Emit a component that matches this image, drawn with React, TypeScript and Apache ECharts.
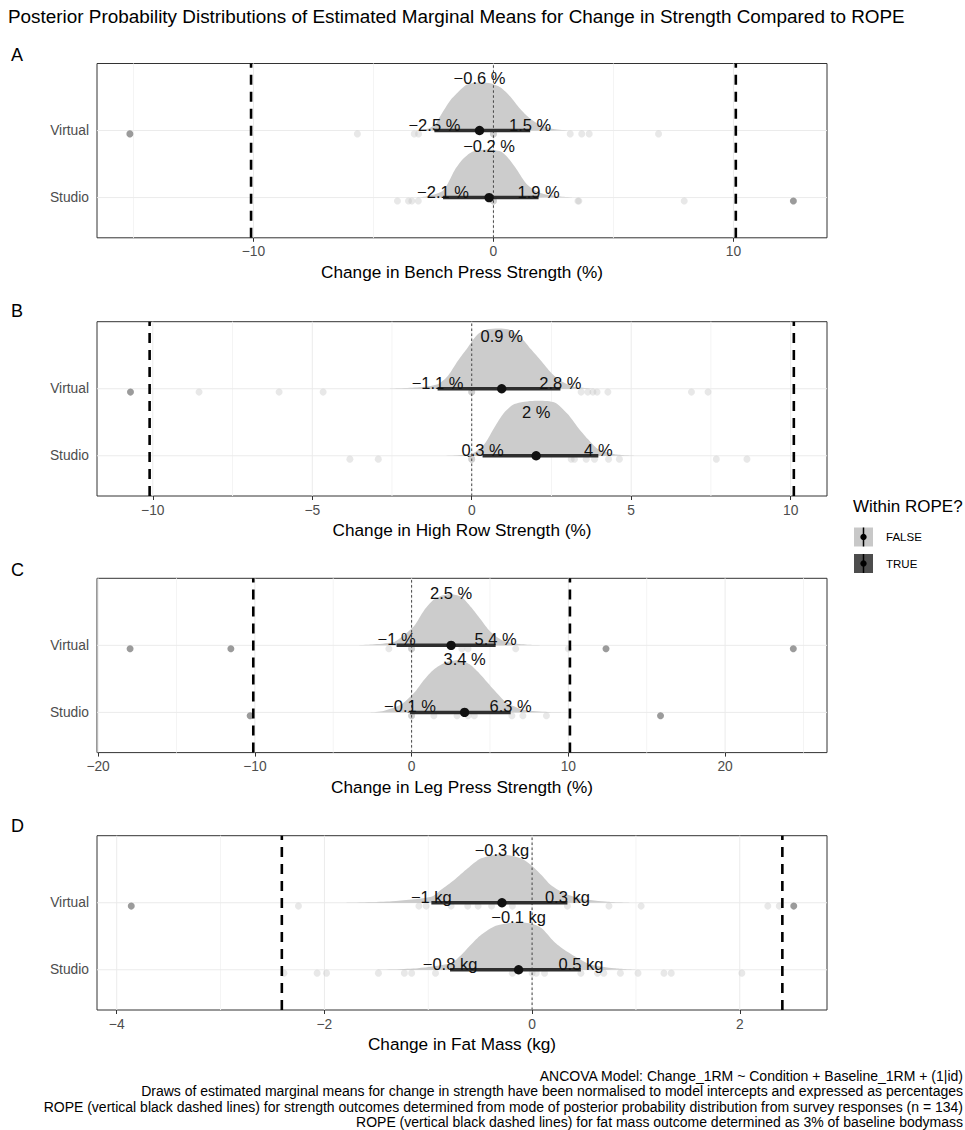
import React, { useEffect, useRef } from "react";
import * as echarts from "echarts";

const FONT = "'Liberation Sans', Arial, Helvetica, sans-serif";

// ---------- data ----------
const titleText =
  "Posterior Probability Distributions of Estimated Marginal Means for Change in Strength Compared to ROPE";
const panelLetters = ["A", "B", "C", "D"];
const axisTitles = [
  "Change in Bench Press Strength (%)",
  "Change in High Row Strength (%)",
  "Change in Leg Press Strength (%)",
  "Change in Fat Mass (kg)",
];
const units = ["%", "%", "%", "kg"];
const conditions = ["Virtual", "Studio"];
const ropeHalfWidth = [10.1, 10.1, 10.1, 2.41];
const xMin = [-16.52, -11.75, -20.07, -4.19];
const xMax = [13.9, 11.14, 26.5, 2.84];
const majorTicks = [
  [-10, 0, 10],
  [-10, -5, 0, 5, 10],
  [-20, -10, 0, 10, 20],
  [-4, -2, 0, 2],
];
const minorTicks = [
  [-15, -5, 5],
  [-7.5, -2.5, 2.5, 7.5],
  [-15, -5, 5, 15, 25],
  [-3, -1, 1],
];

// estimated marginal means and intervals, per panel
const meanVirtual = [-0.58, 0.94, 2.52, -0.29];
const lowerVirtual = [-2.46, -1.07, -0.96, -0.97];
const upperVirtual = [1.53, 2.78, 5.36, 0.34];
const meanStudio = [-0.18, 2.02, 3.38, -0.13];
const lowerStudio = [-2.1, 0.34, -0.1, -0.79];
const upperStudio = [1.88, 3.97, 6.32, 0.47];

// posterior densities [x, density height]
const slabBenchVirtual = [[-3.2, 0], [-2.7, 2], [-2.4, 7], [-2.2, 15], [-1.8, 30], [-1.45, 39], [-1.1, 46], [-0.6, 48], [-0.1, 47], [0.3, 43], [0.7, 34], [1.1, 22], [1.5, 12.5], [1.95, 5.5], [2.5, 1.5], [3.1, 0]];
const slabBenchStudio = [[-3.2, 0], [-2.8, 1], [-2.15, 6], [-1.9, 14], [-1.6, 28], [-1.25, 39], [-0.85, 46], [-0.2, 48], [0.3, 46], [0.56, 41], [0.97, 28], [1.4, 13], [1.95, 4.5], [2.8, 1], [3.3, 0]];
const slabRowVirtual = [[-2.6, 0], [-1.6, 1.5], [-1.07, 4.4], [-0.75, 12.7], [-0.44, 27.7], [-0.13, 41], [0.19, 54.4], [0.5, 59.4], [1.13, 59.4], [1.55, 51], [1.86, 39.4], [2.18, 27.7], [2.49, 16], [2.8, 7.7], [3.22, 2], [3.85, 0]];
const slabRowStudio = [[-0.9, 0], [0, 2], [0.4, 11.7], [0.71, 28.3], [1.02, 43.3], [1.34, 51.7], [1.97, 55], [2.6, 53.3], [3.01, 41.7], [3.33, 28.3], [3.64, 16.7], [3.96, 6.7], [4.48, 1.5], [5.1, 0]];
const slabLegVirtual = [[-3.5, 0], [-2.5, 0.8], [-1.2, 3], [-0.7, 7.7], [0.15, 19], [0.8, 35], [1.4, 45.5], [2.0, 50], [2.6, 51], [3.2, 48], [3.8, 38], [4.4, 26], [5.0, 14], [5.7, 5.7], [6.5, 2], [7.5, 0.5], [8.3, 0]];
const slabLegStudio = [[-2.6, 0], [-1.8, 1.5], [-0.7, 7.7], [0.15, 19.4], [0.8, 32.7], [1.4, 42.7], [2.2, 50], [3.0, 52], [3.7, 48], [4.4, 37.7], [5.25, 22.7], [6.1, 9.4], [7.2, 2.5], [8.7, 0.5], [9.5, 0]];
const slabFatVirtual = [[-1.8, 0], [-1.35, 1.5], [-0.97, 6], [-0.88, 12.7], [-0.75, 22.7], [-0.62, 34.4], [-0.49, 44.4], [-0.3, 48.5], [-0.11, 44.4], [-0.01, 37.7], [0.09, 27.7], [0.18, 17.7], [0.31, 9.4], [0.47, 4], [0.73, 1], [0.95, 0]];
const slabFatStudio = [[-1.5, 0], [-1.1, 1.5], [-0.78, 6.7], [-0.68, 15], [-0.59, 25], [-0.49, 35], [-0.35, 44], [-0.15, 47.5], [0.0, 46], [0.09, 41.7], [0.21, 28.3], [0.31, 20], [0.44, 11.7], [0.57, 5], [0.79, 1.5], [1.0, 0]];

// individual participant changes
const pointsBenchVirtual = [-15.15, -5.67, -3.3, -3.12, 0, 0, 0, 3.2, 3.68, 3.99, 6.88];
const pointsBenchStudio = [-4.0, -3.54, -3.4, -3.13, 0, 0, 0, 3.52, 3.56, 7.95, 12.5];
const pointsRowVirtual = [-10.7, -8.55, -6.04, -4.66, 0, 0, 0, 3.43, 3.64, 3.8, 3.93, 4.27, 6.89, 7.41];
const pointsRowStudio = [-3.82, -2.93, 0, 0, 0, 3.12, 3.22, 3.59, 3.85, 4.29, 4.63, 7.67, 8.63];
const pointsLegVirtual = [-17.96, -11.53, -1.45, 0, 0, 0, 3.2, 3.6, 6.64, 10.0, 12.4, 24.35];
const pointsLegStudio = [-10.3, 0, 0, 0, 1.42, 2.9, 3.6, 4.0, 6.4, 7.1, 8.6, 15.88];
const pointsFatVirtual = [-3.86, -2.25, -1.09, -1.02, -0.78, -0.62, -0.52, -0.39, -0.19, 0.34, 0.74, 1.05, 2.27, 2.38, 2.52];
const pointsFatStudio = [-2.39, -2.07, -1.98, -1.48, -1.23, -1.16, -0.93, -0.19, 0, 0.04, 0.12, 0.47, 0.63, 0.69, 0.85, 1.02, 1.27, 1.34, 2.02];

const legendTitle = "Within ROPE?";
const legendLabels = ["FALSE", "TRUE"];
const captionLines = [
  "ANCOVA Model: Change_1RM ~ Condition + Baseline_1RM + (1|id)",
  "Draws of estimated marginal means for change in strength have been normalised to model intercepts and expressed as percentages",
  "ROPE (vertical black dashed lines) for strength outcomes determined from mode of posterior probability distribution from survey responses (n = 134)",
  "ROPE (vertical black dashed lines) for fat mass outcome determined as 3% of baseline bodymass",
];

// ---------- layout / style ----------
const Y_MIN = 0.4;
const Y_MAX = 3.0;
const ROW_Y = [2, 1]; // Virtual, Studio
const SLAB_SCALE = 1 / 67;
const GRID_LEFT = 97;
const GRID_WIDTH = 730;
const GRID_HEIGHT = 174.3;
const GRID_TOPS = [63.5, 321.7, 578.3, 835.7];
const LETTER_Y = [54.5, 310.5, 569.5, 826];
const PEAK_LABEL_LIFT = [
  [0.787, 0.77],
  [0.78, 0.65],
  [0.78, 0.8],
  [0.79, 0.78],
];
const SLAB_FILL = "#cccccc";
const LIGHT_POINT = "rgba(190,190,190,0.45)";
const DARK_POINT = "rgba(77,77,77,0.7)";
const TICK_FONT = 13.8;

const slabs = [
  [slabBenchVirtual, slabBenchStudio],
  [slabRowVirtual, slabRowStudio],
  [slabLegVirtual, slabLegStudio],
  [slabFatVirtual, slabFatStudio],
];
const pointSets = [
  [pointsBenchVirtual, pointsBenchStudio],
  [pointsRowVirtual, pointsRowStudio],
  [pointsLegVirtual, pointsLegStudio],
  [pointsFatVirtual, pointsFatStudio],
];

const minus = (s: string) => s.replace("-", "\u2212");
const fmtVal = (v: number, unit: string) => {
  let r = Math.round(v * 10) / 10;
  if (Object.is(r, -0)) r = 0;
  return minus(String(r)) + " " + unit;
};

function buildOption() {
  const grid: any[] = [];
  const xAxis: any[] = [];
  const yAxis: any[] = [];
  const series: any[] = [];
  const graphic: any[] = [];

  panelLetters.forEach((letter, i) => {
    const rows = conditions.map((c, r) => ({
      y: ROW_Y[r],
      slab: slabs[i][r],
      points: pointSets[i][r],
      mean: r === 0 ? meanVirtual[i] : meanStudio[i],
      lo: r === 0 ? lowerVirtual[i] : lowerStudio[i],
      hi: r === 0 ? upperVirtual[i] : upperStudio[i],
      lift: PEAK_LABEL_LIFT[i][r],
    }));
    const rope = ropeHalfWidth[i];

    grid.push({
      left: GRID_LEFT,
      top: GRID_TOPS[i],
      width: GRID_WIDTH,
      height: GRID_HEIGHT,
      show: true,
      borderColor: "#333333",
      borderWidth: 1,
      backgroundColor: "transparent",
    });
    xAxis.push({
      gridIndex: i,
      type: "value",
      min: xMin[i],
      max: xMax[i],
      axisLine: { show: false },
      axisTick: {
        show: true,
        length: 4,
        customValues: majorTicks[i],
        lineStyle: { color: "#333333", width: 1 },
      },
      axisLabel: {
        customValues: majorTicks[i],
        formatter: (v: number) => minus(String(v)),
        color: "#4d4d4d",
        fontSize: TICK_FONT,
        fontFamily: FONT,
        margin: 7,
      },
      splitLine: { show: false },
    });
    yAxis.push({
      gridIndex: i,
      type: "value",
      min: Y_MIN,
      max: Y_MAX,
      axisLine: { show: false },
      axisTick: {
        show: true,
        length: 4,
        customValues: ROW_Y,
        lineStyle: { color: "#333333", width: 1 },
      },
      axisLabel: {
        customValues: ROW_Y,
        formatter: (v: number) => conditions[ROW_Y.indexOf(v)] || "",
        color: "#4d4d4d",
        fontSize: TICK_FONT,
        fontFamily: FONT,
        margin: 8,
      },
      splitLine: { show: false },
    });

    const vLines = (values: number[], color: string, width: number, dash: number[] | null, z: number) => ({
      type: "custom",
      xAxisIndex: i,
      yAxisIndex: i,
      silent: true,
      z,
      data: values.map((v) => [v, Y_MIN]),
      renderItem: (_p: any, api: any) => {
        const x = api.value(0);
        const a = api.coord([x, Y_MIN]);
        const b = api.coord([x, Y_MAX]);
        return {
          type: "line",
          shape: { x1: a[0], y1: a[1], x2: b[0], y2: b[1] },
          style: { stroke: color, lineWidth: width, lineDash: dash || undefined, fill: null },
        };
      },
    });

    // grid lines
    series.push(vLines(minorTicks[i], "#f4f4f4", 1, null, 0));
    series.push(vLines(majorTicks[i], "#ebebeb", 1, null, 0));
    series.push({
      type: "custom",
      xAxisIndex: i,
      yAxisIndex: i,
      silent: true,
      z: 0,
      data: rows.map((r) => [xMin[i], r.y]),
      renderItem: (_p: any, api: any) => {
        const a = api.coord([xMin[i], api.value(1)]);
        const b = api.coord([xMax[i], api.value(1)]);
        return {
          type: "line",
          shape: { x1: a[0], y1: a[1], x2: b[0], y2: b[1] },
          style: { stroke: "#ebebeb", lineWidth: 1, fill: null },
        };
      },
    });

    // densities
    series.push({
      type: "custom",
      xAxisIndex: i,
      yAxisIndex: i,
      silent: true,
      z: 1,
      data: rows.map((r) => [r.mean, r.y]),
      renderItem: (p: any, api: any) => {
        const row = rows[p.dataIndex];
        const pts = row.slab.map(([x, h]) => api.coord([x, row.y + h * SLAB_SCALE]));
        return {
          type: "polygon",
          shape: { points: pts, smooth: 0.25 },
          style: { fill: SLAB_FILL, stroke: null },
        };
      },
    });

    // participant points
    rows.forEach((row) => {
      series.push({
        type: "scatter",
        xAxisIndex: i,
        yAxisIndex: i,
        silent: true,
        z: 2,
        symbolSize: 7,
        data: row.points.map((x) => ({
          value: [x, row.y - 0.05],
          itemStyle: { color: Math.abs(x) > rope ? DARK_POINT : LIGHT_POINT },
        })),
      });
    });

    // zero reference line
    series.push(vLines([0], "#444444", 1, [2.5, 2.5], 3));

    // intervals & means
    series.push({
      type: "custom",
      xAxisIndex: i,
      yAxisIndex: i,
      silent: true,
      z: 4,
      data: rows.map((r) => [r.mean, r.y]),
      renderItem: (p: any, api: any) => {
        const row = rows[p.dataIndex];
        const a = api.coord([row.lo, row.y]);
        const b = api.coord([row.hi, row.y]);
        const m = api.coord([row.mean, row.y]);
        return {
          type: "group",
          children: [
            {
              type: "line",
              shape: { x1: a[0], y1: a[1], x2: b[0], y2: b[1] },
              style: { stroke: "#2e2e2e", lineWidth: 3.5, fill: null },
            },
            { type: "circle", shape: { cx: m[0], cy: m[1], r: 4.7 }, style: { fill: "#111111" } },
          ],
        };
      },
    });

    // ROPE lines
    series.push(vLines([-rope, rope], "#000000", 2.6, [10, 7], 5));

    // value labels
    series.push({
      type: "custom",
      xAxisIndex: i,
      yAxisIndex: i,
      silent: true,
      z: 6,
      data: rows.map((r) => [r.mean, r.y]),
      renderItem: (p: any, api: any) => {
        const row = rows[p.dataIndex];
        const top = api.coord([row.mean, row.y + row.lift]);
        const a = api.coord([row.lo, row.y + 0.09]);
        const b = api.coord([row.hi, row.y + 0.09]);
        const mk = (pt: number[], t: string) => ({
          type: "text",
          x: pt[0],
          y: pt[1],
          style: {
            text: t,
            fontSize: 16.5,
            fontFamily: FONT,
            fill: "#111111",
            align: "center",
            verticalAlign: "middle",
          },
        });
        return {
          type: "group",
          children: [
            mk(top, fmtVal(row.mean, units[i])),
            mk(a, fmtVal(row.lo, units[i])),
            mk(b, fmtVal(row.hi, units[i])),
          ],
        };
      },
    });

    // panel letter & axis title
    graphic.push({
      type: "text",
      x: 11,
      y: LETTER_Y[i],
      style: { text: letter, fontSize: 18, fontFamily: FONT, fill: "#000", verticalAlign: "middle" },
    });
    graphic.push({
      type: "text",
      x: GRID_LEFT + GRID_WIDTH / 2,
      y: GRID_TOPS[i] + GRID_HEIGHT + 34.3,
      style: {
        text: axisTitles[i],
        fontSize: 17.2,
        fontFamily: FONT,
        fill: "#000",
        align: "center",
        verticalAlign: "middle",
      },
    });
  });

  // title
  graphic.push({
    type: "text",
    x: 8,
    y: 16,
    style: { text: titleText, fontSize: 18.9, fontFamily: FONT, fill: "#000", verticalAlign: "middle" },
  });

  // legend
  graphic.push({
    type: "text",
    x: 853,
    y: 506.5,
    style: { text: legendTitle, fontSize: 17, fontFamily: FONT, fill: "#000", verticalAlign: "middle" },
  });
  const keyFill = ["#c8c8c8", "#4d4d4d"];
  const keyTop = [527.5, 554];
  legendLabels.forEach((lab, k) => {
    graphic.push({
      type: "rect",
      shape: { x: 854, y: keyTop[k], width: 19, height: 19 },
      style: { fill: keyFill[k] },
    });
    graphic.push({
      type: "line",
      shape: { x1: 863.5, y1: keyTop[k], x2: 863.5, y2: keyTop[k] + 19 },
      style: { stroke: "#000", lineWidth: 1.5 },
    });
    graphic.push({
      type: "circle",
      shape: { cx: 863.5, cy: keyTop[k] + 9.5, r: 3.2 },
      style: { fill: "#000" },
    });
    graphic.push({
      type: "text",
      x: 886,
      y: keyTop[k] + 9.5,
      style: { text: lab, fontSize: 11.5, fontFamily: FONT, fill: "#000", verticalAlign: "middle" },
    });
  });

  // caption
  const capY = [1076, 1091.3, 1106.6, 1122];
  captionLines.forEach((line, k) => {
    graphic.push({
      type: "text",
      x: 963,
      y: capY[k],
      style: {
        text: line,
        fontSize: 14,
        fontFamily: FONT,
        fill: "#000",
        align: "right",
        verticalAlign: "middle",
      },
    });
  });

  return {
    animation: false,
    backgroundColor: "#ffffff",
    grid,
    xAxis,
    yAxis,
    series,
    graphic,
  };
}

export default function App() {
  const ref = useRef<HTMLDivElement>(null);
  useEffect(() => {
    if (!ref.current) return;
    const chart = echarts.init(ref.current, null, { renderer: "svg" });
    chart.setOption(buildOption() as any);
    return () => chart.dispose();
  }, []);
  return (
    <div
      ref={ref}
      style={{ position: "absolute", left: 0, top: 0, width: 965, height: 1130, background: "#fff", overflow: "hidden" }}
    />
  );
}
